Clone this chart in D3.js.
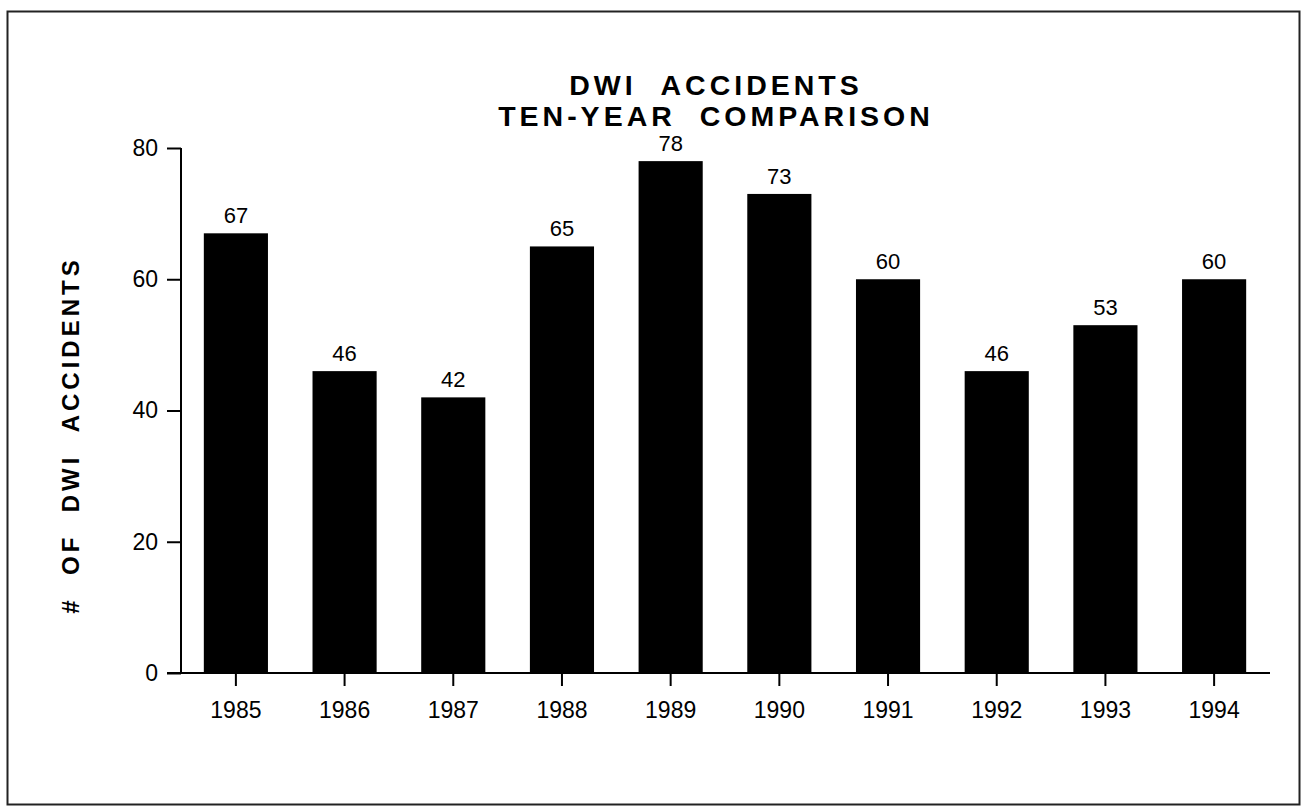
<!DOCTYPE html>
<html>
<head>
<meta charset="utf-8">
<script src="https://cdn.jsdelivr.net/npm/d3@7"></script>
<style>
  body { margin: 0; background: #fff; }
  text { font-family: "Liberation Sans", Arial, sans-serif; fill: #000; }
</style>
</head>
<body>
<div id="vis"></div>
<script>
var years = ["1985", "1986", "1987", "1988", "1989", "1990", "1991", "1992", "1993", "1994"];
var accidents = [67, 46, 42, 65, 78, 73, 60, 46, 53, 60];
var yTicks = [0, 20, 40, 60, 80];
var titleLines = ["DWI\u00a0\u00a0ACCIDENTS", "TEN-YEAR\u00a0\u00a0COMPARISON"];
var yLabel = "#\u00a0\u00a0OF\u00a0\u00a0DWI\u00a0\u00a0ACCIDENTS";

var width = 1308, height = 809;
var svg = d3.select("#vis").append("svg")
  .attr("width", width).attr("height", height);

// page frame
svg.append("rect")
  .attr("x", 7.5).attr("y", 11.5)
  .attr("width", 1292).attr("height", 793)
  .attr("fill", "none").attr("stroke", "#222").attr("stroke-width", 2);

var x = d3.scaleBand()
  .domain(years)
  .range([181, 1269])
  .paddingInner(0.41)
  .paddingOuter(0.21);

var y = d3.scaleLinear()
  .domain([0, 80])
  .range([673, 148]);

// bars
svg.selectAll(".bar")
  .data(accidents)
  .enter().append("rect")
  .attr("class", "bar")
  .attr("x", function(d, i){ return x(years[i]); })
  .attr("width", x.bandwidth())
  .attr("y", function(d){ return y(d); })
  .attr("height", function(d){ return y(0) - y(d); })
  .attr("fill", "#000");

// value labels
svg.selectAll(".val")
  .data(accidents)
  .enter().append("text")
  .attr("class", "val")
  .attr("x", function(d, i){ return x(years[i]) + x.bandwidth() / 2; })
  .attr("y", function(d){ return y(d) - 10; })
  .attr("text-anchor", "middle")
  .attr("font-size", 22)
  .text(function(d){ return d; });

// y axis
var yAxis = svg.append("g")
  .attr("transform", "translate(181,0)")
  .call(d3.axisLeft(y).tickValues(yTicks).tickSize(14).tickPadding(9));
yAxis.selectAll("text").attr("font-size", 23).style("font-family", "'Liberation Sans', Arial, sans-serif");
yAxis.selectAll("line, path").attr("stroke", "#000").attr("stroke-width", 2);
yAxis.select(".domain").attr("d", "M0," + y(0) + "V" + y(80));

// x axis
var xAxis = svg.append("g")
  .attr("transform", "translate(0," + y(0) + ")")
  .call(d3.axisBottom(x).tickSize(13).tickPadding(16));
xAxis.selectAll("text").attr("font-size", 23).style("font-family", "'Liberation Sans', Arial, sans-serif");
xAxis.selectAll("line, path").attr("stroke", "#000").attr("stroke-width", 2);
xAxis.select(".domain").attr("d", "M167,0H1270");

// title
svg.selectAll(".title")
  .data(titleLines)
  .enter().append("text")
  .attr("class", "title")
  .attr("x", 716)
  .attr("y", function(d, i){ return 95 + i * 31; })
  .attr("text-anchor", "middle")
  .attr("font-size", 28.5)
  .attr("font-weight", "bold")
  .attr("letter-spacing", 4)
  .text(function(d){ return d; });

// y label
svg.append("text")
  .attr("transform", "translate(79,435) rotate(-90)")
  .attr("text-anchor", "middle")
  .attr("font-size", 24)
  .attr("font-weight", "bold")
  .attr("letter-spacing", 4)
  .text(yLabel);
</script>
</body>
</html>
